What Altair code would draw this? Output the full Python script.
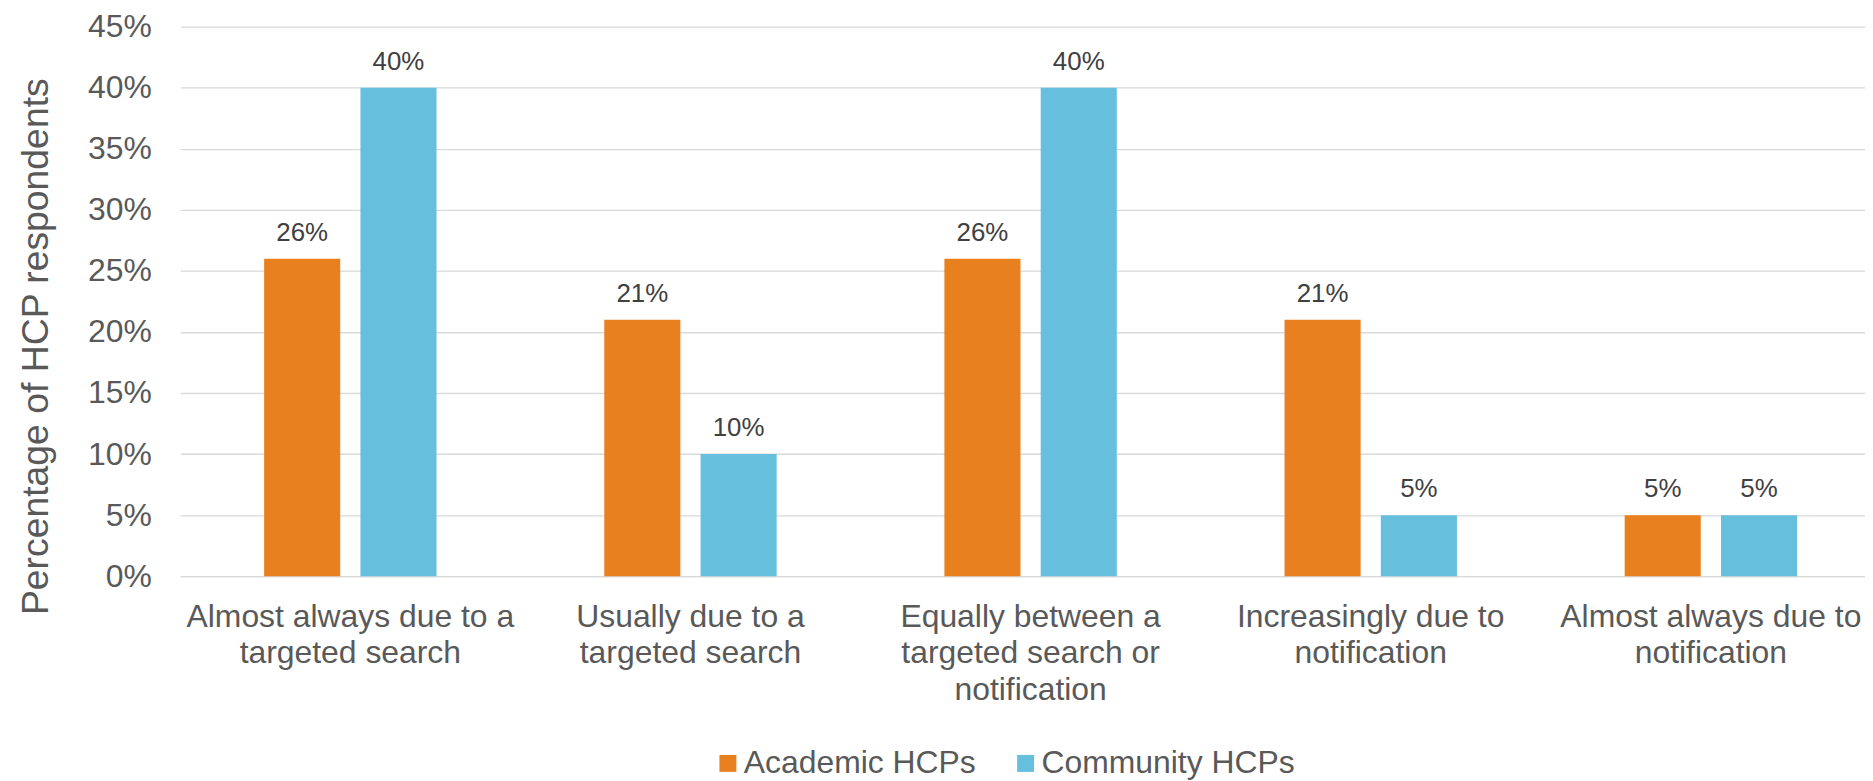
import altair as alt
import pandas as pd

categories = [
    "Almost always due to a|targeted search",
    "Usually due to a|targeted search",
    "Equally between a|targeted search or|notification",
    "Increasingly due to|notification",
    "Almost always due to|notification",
]
groups = ["Academic HCPs", "Community HCPs"]
academic = [0.26, 0.21, 0.26, 0.21, 0.05]
community = [0.40, 0.10, 0.40, 0.05, 0.05]
colors = ["#E8801F", "#65BFDD"]
y_ticks = [0, 0.05, 0.10, 0.15, 0.20, 0.25, 0.30, 0.35, 0.40, 0.45]

rows = []
for c, a, m in zip(categories, academic, community):
    rows.append({"category": c, "group": groups[0], "value": a})
    rows.append({"category": c, "group": groups[1], "value": m})
df = pd.DataFrame(rows)

FONT = "Liberation Sans"
GREY = "#595959"

x = alt.X(
    "category:N", sort=categories, title=None,
    scale=alt.Scale(range=[0, 1708], paddingInner=0, paddingOuter=0),
    axis=alt.Axis(
        labelExpr="split(datum.label, '|')", labelAngle=0, labelFontSize=32,
        labelFont=FONT, labelColor=GREY, labelPadding=25, labelLineHeight=37,
        labelLimit=1000, labelOverlap=False, ticks=False, domain=True,
        domainColor="#D9D9D9", domainWidth=1.3, grid=False,
    ),
)
xo = alt.XOffset(
    "group:N", sort=groups,
    scale=alt.Scale(paddingInner=0.21, paddingOuter=0.871),
)
y = alt.Y(
    "value:Q",
    scale=alt.Scale(domain=[0, 0.45], nice=False, zero=True),
    axis=alt.Axis(
        values=y_ticks, format=".0%", labelFontSize=32, labelFont=FONT,
        labelColor=GREY, labelPadding=29, ticks=False, domain=False,
        gridColor="#D9D9D9", gridWidth=1.3,
        title="Percentage of HCP respondents", titleFontSize=37.5,
        titleFont=FONT, titleFontWeight="normal", titleColor=GREY,
        titleBaseline="alphabetic", titleX=-133, titleY=321,
    ),
)

bars = alt.Chart(df).mark_bar().encode(
    x=x, xOffset=xo, y=y,
    color=alt.Color(
        "group:N",
        scale=alt.Scale(domain=groups, range=colors),
        legend=alt.Legend(
            title=None, orient="none", legendX=534, legendY=724,
            direction="horizontal", symbolType="square", symbolSize=289,
            symbolStrokeWidth=0, symbolOpacity=1, labelFontSize=32,
            labelFont=FONT, labelColor=GREY, labelOffset=0, labelLimit=1000,
            columnPadding=34, padding=0, gridAlign="none",
        ),
    ),
)

labels = alt.Chart(df).mark_text(
    baseline="alphabetic", dy=-18, fontSize=26, font=FONT, color="#404040"
).encode(
    x=x, xOffset=xo, y=y,
    text=alt.Text("value:Q", format=".0%"),
)

chart = alt.layer(bars, labels).properties(
    width=1692, height=552,
    autosize=alt.AutoSizeParams(type="none"),
    padding={"left": 173, "top": 17, "right": 0, "bottom": 204},
).configure_view(strokeWidth=0)

chart.save("out.html", embed_options={"renderer": "svg", "actions": False})
